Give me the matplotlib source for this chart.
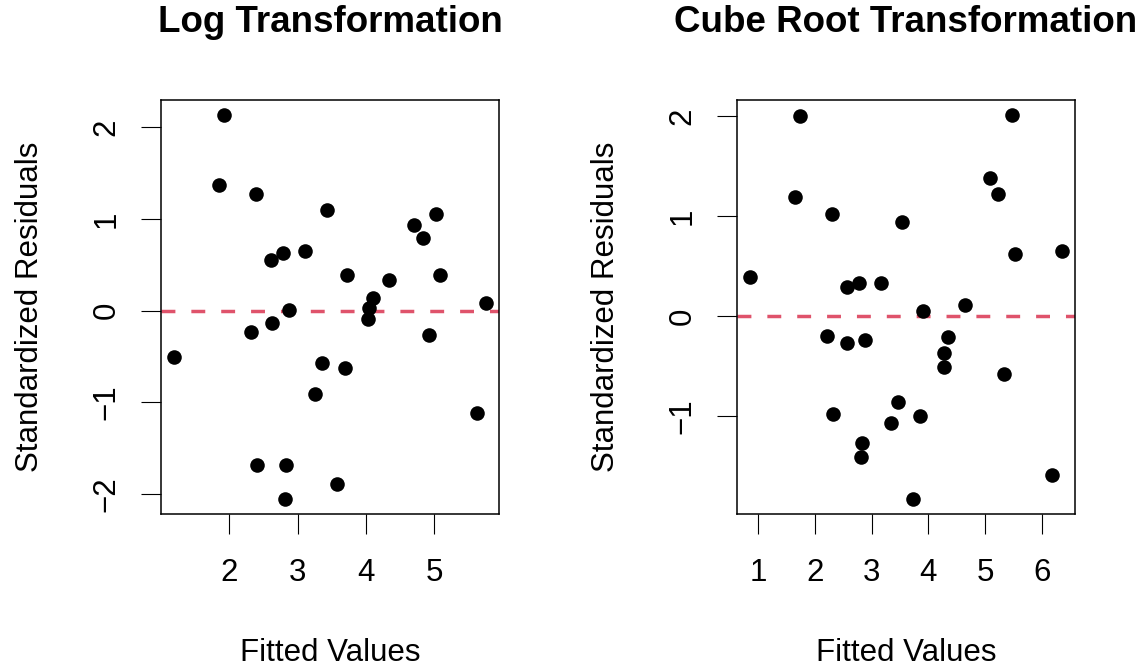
import matplotlib
matplotlib.use("Agg")
import matplotlib.pyplot as plt

plt.rcParams["font.family"] = ["Liberation Sans", "DejaVu Sans"]

# values
log_fitted = [1.92, 1.85, 2.39, 3.43, 4.71, 5.03, 4.84, 2.61, 2.79, 3.11,
              3.73, 5.09, 4.34, 4.10, 5.77, 4.04, 2.88, 4.03, 2.32, 2.63,
              4.92, 1.18, 3.36, 3.70, 3.25, 5.63, 2.41, 2.83, 3.58, 2.81]
log_resid = [2.13, 1.37, 1.27, 1.10, 0.93, 1.05, 0.79, 0.55, 0.63, 0.65,
             0.39, 0.39, 0.33, 0.14, 0.08, 0.03, 0.01, -0.09, -0.23, -0.13,
             -0.27, -0.51, -0.57, -0.63, -0.91, -1.12, -1.68, -1.68, -1.89, -2.05]

cube_fitted = [1.73, 5.47, 5.08, 5.23, 1.65, 2.30, 3.54, 5.53, 6.36, 0.85,
               2.56, 2.77, 3.16, 4.64, 3.90, 2.21, 2.57, 2.88, 4.35, 4.28,
               4.27, 5.33, 3.47, 2.32, 3.34, 3.86, 2.83, 2.81, 6.18, 3.72]
cube_resid = [2.00, 2.01, 1.38, 1.22, 1.19, 1.02, 0.94, 0.62, 0.65, 0.39,
              0.29, 0.33, 0.33, 0.11, 0.05, -0.20, -0.27, -0.24, -0.21, -0.37,
              -0.51, -0.58, -0.86, -0.98, -1.07, -1.00, -1.27, -1.41, -1.59, -1.83]

titles = ["Log Transformation", "Cube Root Transformation"]
xticks = [[2, 3, 4, 5], [1, 2, 3, 4, 5, 6]]
yticks = [[-2, -1, 0, 1, 2], [-1, 0, 1, 2]]

W, H = 1145, 668
fig = plt.figure(figsize=(W / 100, H / 100), dpi=100)

panels = [(log_fitted, log_resid, 161), (cube_fitted, cube_resid, 737)]
for i, (x, y, left) in enumerate(panels):
    ax = fig.add_axes([left / W, 154 / H, 338 / W, 414 / H])
    ax.scatter(x, y, s=110, color="black", zorder=3, linewidths=0)
    ax.axhline(0, color="#DF536B", lw=2.5, dashes=(4, 4.6), zorder=2,
               dash_capstyle="butt")

    # R style 4% padding
    xr = max(x) - min(x)
    yr = max(y) - min(y)
    ax.set_xlim(min(x) - 0.04 * xr, max(x) + 0.04 * xr)
    ax.set_ylim(min(y) - 0.04 * yr, max(y) + 0.04 * yr)

    ax.set_xticks(xticks[i])
    ax.set_yticks(yticks[i])
    ax.tick_params(length=14.5, width=0.8, labelsize=22.5)
    ax.tick_params(axis="x", pad=17)
    ax.tick_params(axis="y", pad=14)
    for lab in ax.get_yticklabels():
        lab.set_rotation(90)
        lab.set_va("center")
    for s in ax.spines.values():
        s.set_linewidth(1.1)

    ax.set_xlabel("Fitted Values", fontsize=22.5)
    ax.set_ylabel("Standardized Residuals", fontsize=22.5)
    ax.xaxis.set_label_coords(0.5, (514 - 653) / 414)
    ax.xaxis.label.set_va("center")
    ax.yaxis.set_label_coords(-131 / 338, 0.5)
    ax.yaxis.label.set_va("center")

    fig.text((left + 169) / W, 1 - 23 / H, titles[i], fontsize=26.5,
             fontweight="bold", ha="center", va="center")

fig.savefig("out.png", dpi=100)
